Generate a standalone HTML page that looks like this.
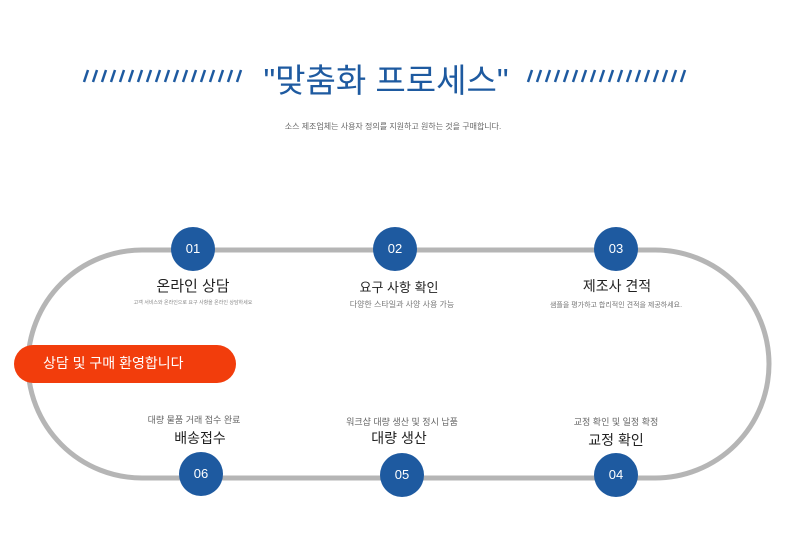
<!DOCTYPE html>
<html><head><meta charset="utf-8"><style>
body{margin:0;width:790px;height:558px;background:#fff;position:relative;overflow:hidden;font-family:"Liberation Sans","Noto Sans CJK KR",sans-serif}
.t{position:absolute;white-space:nowrap;transform:translateX(-50%)}
.c{position:absolute;width:44px;height:44px;border-radius:50%;background:#1e5aa0;color:#fff;font-size:13px;text-align:center;line-height:44px;transform:translate(-50%,-50%)}
</style></head><body>
<div class="t" style="left:386px;top:54px;font-size:33px;color:#1e5aa0">"맞춤화 프로세스"</div>
<div class="t" style="left:393px;top:121px;font-size:8px;color:#666">소스 제조업체는 사용자 정의를 지원하고 원하는 것을 구매합니다.</div>
<svg style="position:absolute;left:0;top:0" width="790" height="558">
<g stroke="#1e5aa0" stroke-width="2.5">
<path id="s" d="M84 82 L88 70 M93 82 L97 70 M102 82 L106 70 M111 82 L115 70 M120 82 L124 70 M129 82 L133 70 M138 82 L142 70 M147 82 L151 70 M156 82 L160 70 M165 82 L169 70 M174 82 L178 70 M183 82 L187 70 M192 82 L196 70 M201 82 L205 70 M210 82 L214 70 M219 82 L223 70 M228 82 L232 70 M237 82 L241 70"/>
<use href="#s" x="444"/>
</g>
<path d="M142 250 H655 A114 114 0 0 1 655 478 H142 A114 114 0 0 1 142 250 Z" fill="none" stroke="#b5b5b5" stroke-width="5"/>
</svg>
<div class="c" style="left:193px;top:249px">01</div>
<div class="c" style="left:395px;top:249px">02</div>
<div class="c" style="left:616px;top:249px">03</div>
<div class="c" style="left:201px;top:474px">06</div>
<div class="c" style="left:402px;top:475px">05</div>
<div class="c" style="left:616px;top:475px">04</div>
<div class="t" style="left:193px;top:275px;font-size:15px;color:#222">온라인 상담</div>
<div class="t" style="left:193px;top:299px;font-size:5px;color:#888">고객 서비스와 온라인으로 요구 사항을 온라인 상담하세요</div>
<div class="t" style="left:399px;top:277px;font-size:13px;color:#222">요구 사항 확인</div>
<div class="t" style="left:402px;top:299px;font-size:8px;color:#777">다양한 스타일과 사양 사용 가능</div>
<div class="t" style="left:617px;top:276px;font-size:14px;color:#222">제조사 견적</div>
<div class="t" style="left:616px;top:300px;font-size:7px;color:#777">샘플을 평가하고 합리적인 견적을 제공하세요.</div>
<div class="t" style="left:194px;top:413px;font-size:9px;color:#666">대량 물품 거래 접수 완료</div>
<div class="t" style="left:200px;top:428px;font-size:14px;color:#222">배송접수</div>
<div class="t" style="left:402px;top:415px;font-size:9px;color:#666">워크샵 대량 생산 및 정시 납품</div>
<div class="t" style="left:399px;top:428px;font-size:14px;color:#222">대량 생산</div>
<div class="t" style="left:616px;top:415px;font-size:9px;color:#666">교정 확인 및 일정 확정</div>
<div class="t" style="left:616px;top:430px;font-size:14px;color:#222">교정 확인</div>
<div style="position:absolute;left:14px;top:345px;width:222px;height:38px;border-radius:19px;background:#f23d0c;color:#fff;font-size:14px;line-height:36px;box-sizing:border-box;padding-left:29px">상담 및 구매 환영합니다</div>
</body></html>
